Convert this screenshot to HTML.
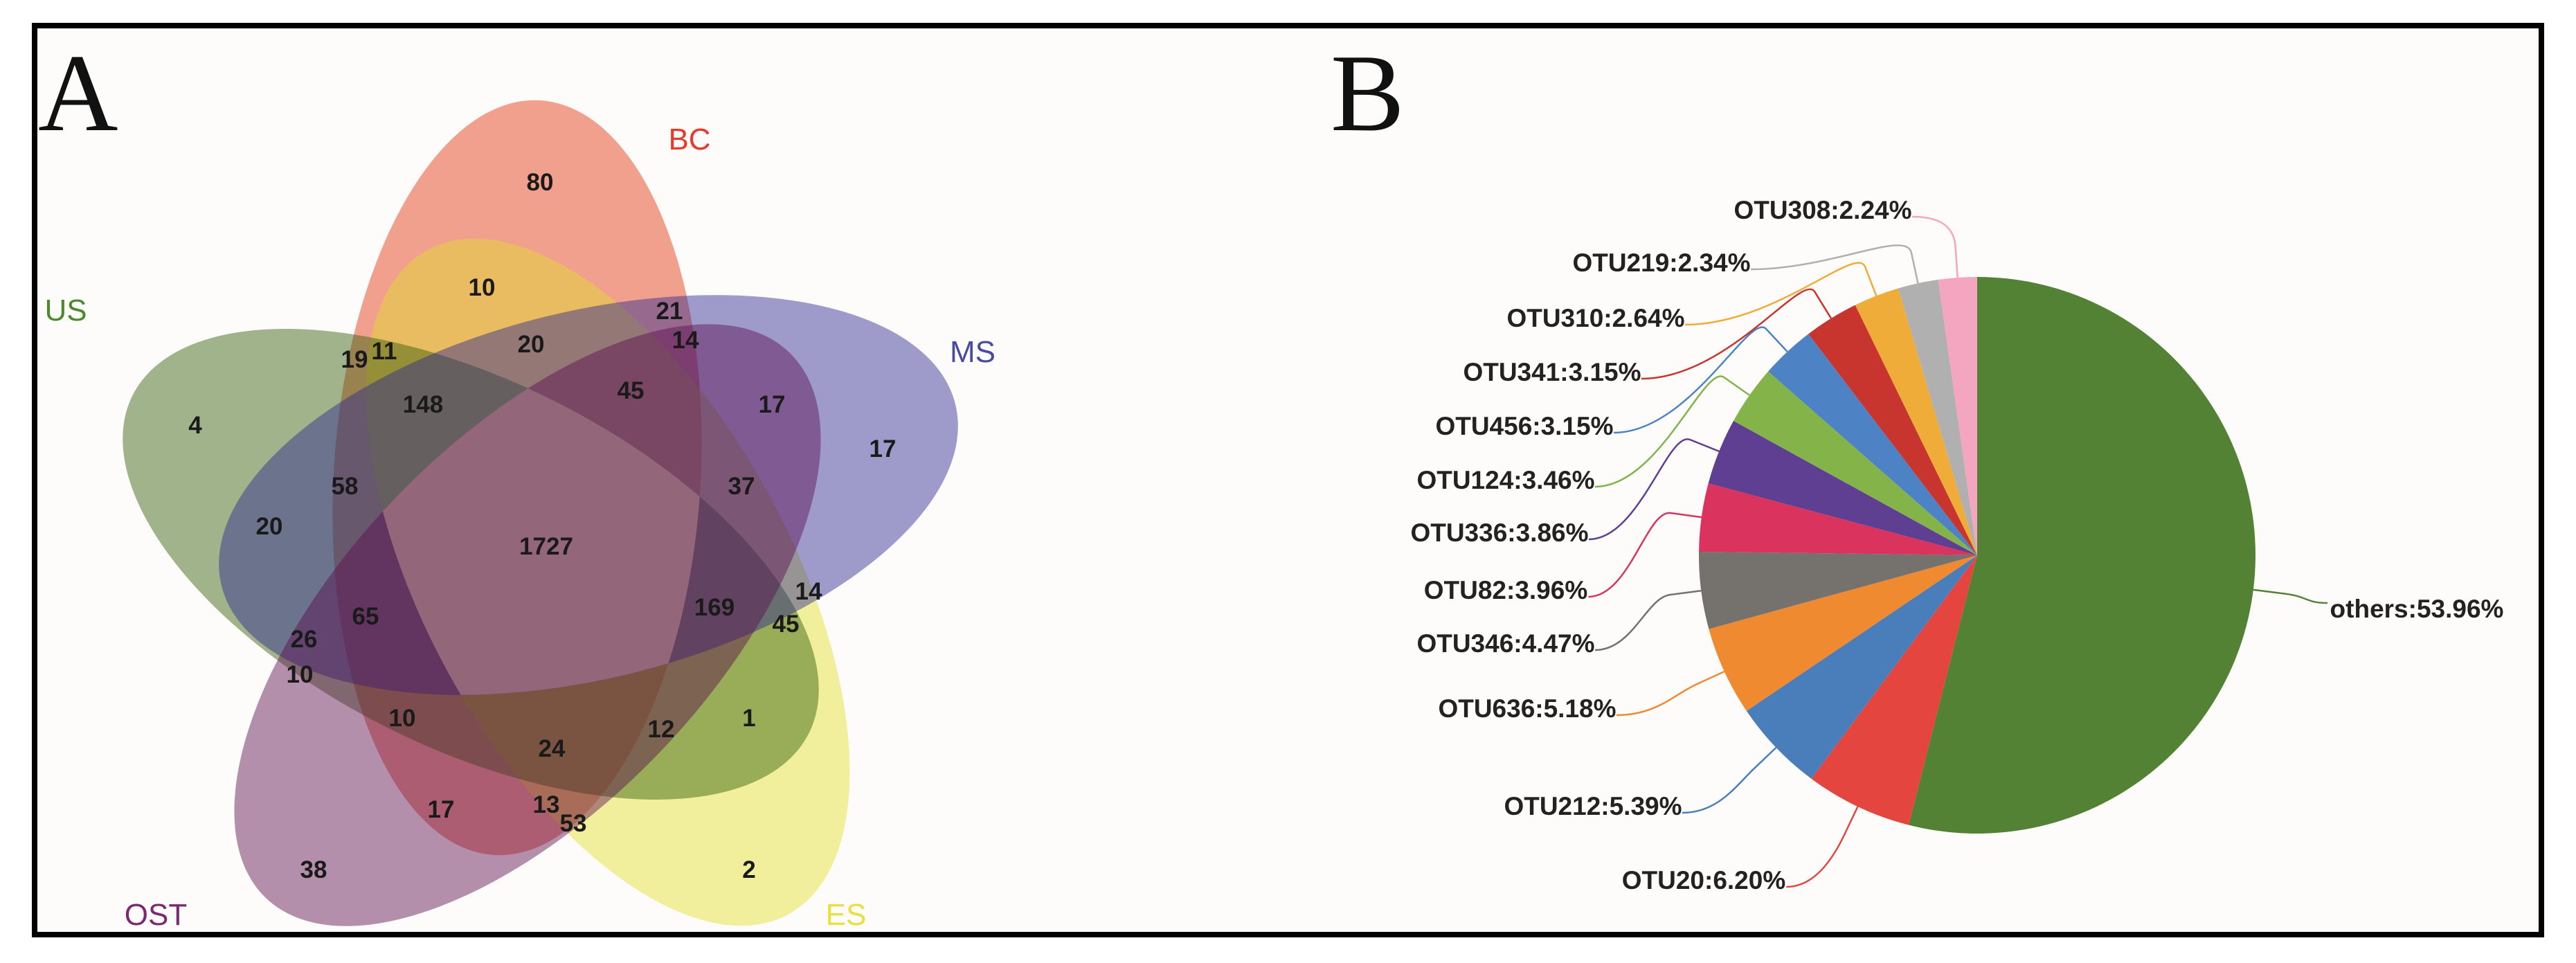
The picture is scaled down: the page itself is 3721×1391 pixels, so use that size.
<!DOCTYPE html>
<html><head><meta charset="utf-8"><style>
html,body{margin:0;padding:0;background:#fff;overflow:hidden;width:3721px;height:1391px;}
#wrap{position:relative;width:3721px;height:1391px;background:#fff;overflow:hidden;}
svg{display:block;}
svg text{font-family:"Liberation Sans",sans-serif;}
</style></head><body>
<div id="wrap">
<svg id="svg" width="3721" height="1391" viewBox="0 0 3721 1391">
<defs id="defs"></defs>
<rect x="50" y="37" width="3621" height="1313" fill="#fdfcfa" stroke="#000" stroke-width="8"/>
<text x="55" y="188" font-size="160" style="font-family:'Liberation Serif',serif" fill="#111">A</text>
<text x="1922" y="188" font-size="160" style="font-family:'Liberation Serif',serif" fill="#111">B</text>
<g id="venn"></g>
<g id="pie"></g>
</svg>
</div>
<script>
// Venn data
const vennSets = ['BC','ES','US','MS','OST'];
const vennCounts = [80,10,21,14,20,19,11,148,45,17,17,4,58,37,20,1727,14,169,65,45,26,10,10,12,1,24,17,13,53,38,2];
// Pie data
const pieLabels = ['others','OTU20','OTU212','OTU636','OTU346','OTU82','OTU336','OTU124','OTU456','OTU341','OTU310','OTU219','OTU308'];
const pieValues = [53.96,6.20,5.39,5.18,4.47,3.96,3.86,3.46,3.15,3.15,2.64,2.34,2.24];

const NS='http://www.w3.org/2000/svg';
function mk(tag,attrs,parent){const e=document.createElementNS(NS,tag);for(const k in attrs)e.setAttribute(k,attrs[k]);parent.appendChild(e);return e;}

// ---- Venn ----
const venn=document.getElementById('venn');
const defs=document.getElementById('defs');
const ellGeom={BC:[747,690,-86.5],ES:[878,841,61.5],US:[680,815,26.5],MS:[850,715,-13.9],OST:[762,903,-46.2]};
const ellCol={BC:'#e2300a',ES:'#e2dd2a',US:'#2f5a05',MS:'#2a2690',OST:'#5c0a4e'};
vennSets.forEach(s=>{
  const g=ellGeom[s];
  const tf=`translate(${g[0]},${g[1]}) rotate(${g[2]})`;
  const e=mk('ellipse',{cx:0,cy:0,rx:546,ry:265,fill:ellCol[s],'fill-opacity':0.45,transform:tf},venn);
  
  
  const cp=mk('clipPath',{id:'clip-'+s},defs);
  mk('ellipse',{cx:0,cy:0,rx:546,ry:265,transform:tf},cp);
});
// lighter core where all five sets intersect
let host=venn;
vennSets.forEach(s=>{ host=mk('g',{'clip-path':`url(#clip-${s})`},host); });
const core=mk('rect',{x:0,y:0,width:1600,height:1391,fill:'#94667a'},host);



const setLabPos={BC:[996,216],ES:[1222,1336],US:[95,463],MS:[1405,523],OST:[225,1336]};
const setLabCol={BC:'#e8392a',ES:'#e8e040',US:'#4a8a2a',MS:'#4a4aa0',OST:'#7a2a70'};
vennSets.forEach(s=>{
  const t=mk('text',{x:setLabPos[s][0],y:setLabPos[s][1],'font-size':44,'text-anchor':'middle',fill:setLabCol[s]},venn);
  t.textContent=s;
  
  
});
const cntPos=[[780,263],[696,415],[967,449],[990,491],[767,497],[512,519],[555,507],[611,584],[911,564],[1115,584],[1275,648],[282,614],[498,702],[1071,702],[389,760],[789,789],[1168,854],[1032,877],[528,890],[1135,901],[439,923],[433,974],[581,1037],[955,1053],[1082,1037],[797,1081],[637,1169],[789,1162],[828,1189],[453,1256],[1082,1256]];
vennCounts.forEach((c,i)=>{
  const t=mk('text',{x:cntPos[i][0],y:cntPos[i][1]+12,'font-size':35,'font-weight':'bold','text-anchor':'middle',fill:'#1a1a1a'},venn);
  t.textContent=c;
  
  
});

// ---- Pie ----
const pie=document.getElementById('pie');
const pcx=2856, pcy=802, R=402;
const pieCol=['#548235','#e5453f','#4a7ebb','#f08a30','#75716c','#d9335e','#5e3f91','#84b34a','#4d83c4','#c8352f','#f0ac38','#b0b0b0','#f4a5bf'];
const labPos=[[3491,879],[2461,1271],[2301,1164],[2206,1023],[2175,929],[2175,852],[2166,769],[2175,693],[2202,615],[2242,537],[2305,459],[2400,379],[2633,303]];
const total=pieValues.reduce((a,b)=>a+b,0);
function pt(a,r){return [pcx+r*Math.sin(a),pcy-r*Math.cos(a)];}
let acc=0;
pieValues.forEach((v,i)=>{
  const a0=acc/total*2*Math.PI; acc+=v; const a1=acc/total*2*Math.PI;
  const p0=pt(a0,R),p1=pt(a1,R);
  const large=(a1-a0)>Math.PI?1:0;
  const s=mk('path',{d:`M${pcx},${pcy} L${p0[0]},${p0[1]} A${R},${R} 0 ${large} 1 ${p1[0]},${p1[1]} Z`,fill:pieCol[i]},pie);
  
  
  const am=(a0+a1)/2;
  const e0=pt(am,R), e1=pt(am,R+45);
  const lp=labPos[i];
  const right=i===0;
  const tw=(pieLabels[i].length+6)*19;
  const ex=right?lp[0]-tw/2-15:lp[0]+tw/2+15, ey=lp[1]+(right?-8:10);
  const c1=pt(am,R+80);
  const l=mk('path',{d:`M${e0[0]},${e0[1]} L${e1[0]},${e1[1]} C${c1[0]},${c1[1]} ${(ex+e1[0])/2},${ey} ${ex},${ey}`,fill:'none',stroke:pieCol[i],'stroke-width':2.5},pie);
  
  
  const t=mk('text',{x:lp[0],y:lp[1]+13,'font-size':37,'font-weight':'bold','text-anchor':'middle',fill:'#222'},pie);
  t.textContent=pieLabels[i]+':'+pieValues[i].toFixed(2)+'%';
  
  
});
</script>
</body></html>
